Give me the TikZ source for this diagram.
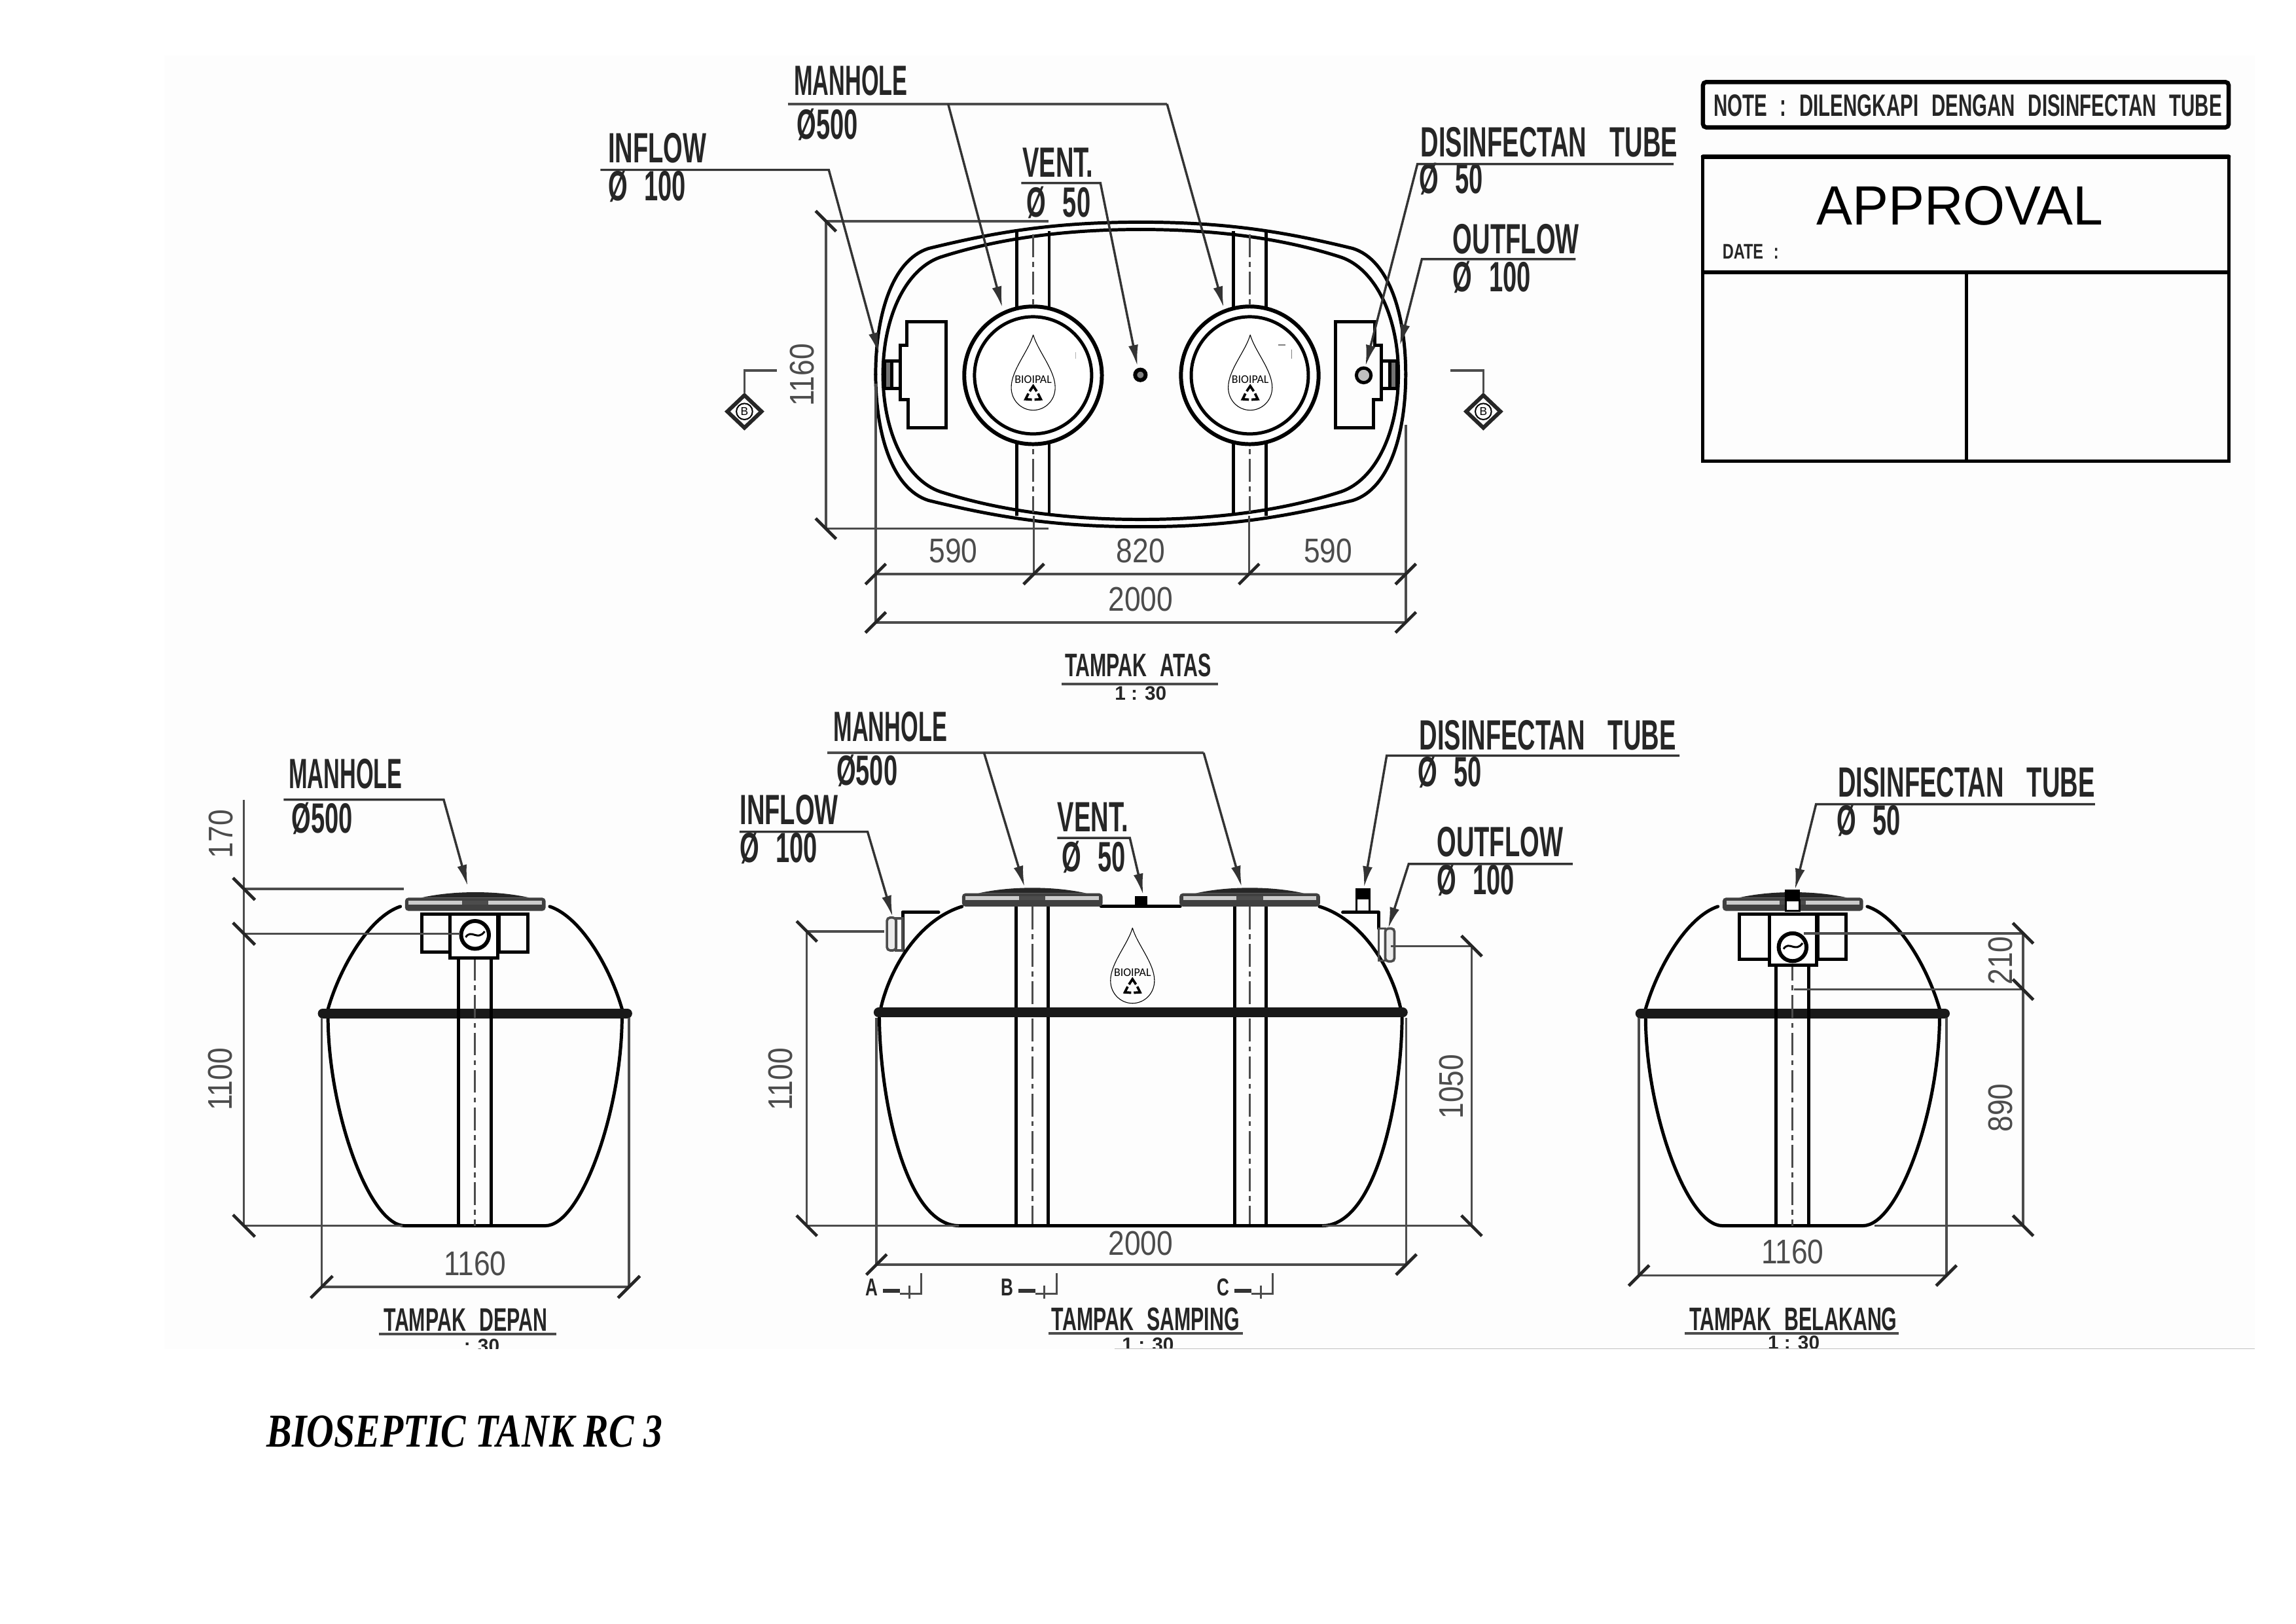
\documentclass[tikz,border=0pt]{standalone}
\usepackage{fontspec}
\setmainfont{Liberation Sans}
\newfontfamily\titlefont{Liberation Serif}
\newfontfamily\logofont{Carlito}
\newfontfamily\labelfont[WordSpace=1.6]{Liberation Sans}
\newfontfamily\widefont[WordSpace=2.4]{Liberation Sans}
\usetikzlibrary{arrows.meta,shapes.geometric}
\definecolor{ink}{gray}{.15}
\definecolor{dimcol}{gray}{.3}
\tikzset{
  tank/.style={line width=1pt, draw=black, line cap=round},
  band/.style={line width=3pt, draw=black!90, line cap=round},
  strap/.style={line width=1pt, draw=black},
  axis/.style={line width=.6pt, draw=dimcol, dash pattern=on 7pt off 1.5pt on 1.5pt off 1.5pt},
  dimln/.style={line width=.7pt, draw=dimcol},
  tickln/.style={line width=.95pt, draw=black!85},
  ldr/.style={line width=.7pt, draw=black!80, -{Latex[length=6.5pt,width=3pt]}},
  txt/.style={anchor=base west, inner sep=0pt, text=ink, font=\labelfont\fontsize{13}{13}\bfseries\selectfont, xscale=.59},
  dimnum/.style={inner sep=0pt, text=dimcol, font=\fontsize{10.5}{10.5}\selectfont, xscale=.85},
  viewtitle/.style={anchor=base west, inner sep=0pt, text=ink, font=\widefont\fontsize{10}{10}\bfseries\selectfont, xscale=.61},
  viewscale/.style={inner sep=0pt, text=ink, font=\fontsize{6}{6}\bfseries\selectfont},
  secmark/.style={diamond, draw=black!85, line width=1.2pt, inner sep=0pt, minimum width=11pt, minimum height=10.5pt, font=\fontsize{3.5}{3.5}\selectfont},
  dropmark/.pic={
    \draw[line width=.22pt] (0,0) .. controls (3,11) and (15,24) .. (15,36)
      .. controls (15,45) and (8,51.5) .. (0,51.5)
      .. controls (-8,51.5) and (-15,45) .. (-15,36)
      .. controls (-15,24) and (-3,11) .. (0,0);
    \node[inner sep=0pt, font=\logofont\fontsize{3.6}{3.6}\selectfont] (-name) at (0,30.4) {BIOIPAL};
    \foreach \a in {0,120,240}
      \draw[line width=.75pt, rotate around={\a:(0,41)}] (-2.4,38.6) -- (0,35) -- (2.4,38.6);
  },
  lid/.pic={
    \fill[black!85] (-37,-9) .. controls (-15,-14) and (15,-14) .. (37,-9) -- cycle;
    \fill[black!75, rounded corners=1pt] (-48,-9) rectangle (48,0);
    \fill[black!20] (-45.5,-7) rectangle (45.5,-4.2);
    \fill[black!70] (-9,-7) rectangle (9,-4.2);
  },
  endview/.pic={
    \draw[tank] (-51,619) .. controls (-72,626) and (-92,660) .. (-100.4,689);
    \draw[tank] (51,619) .. controls (72,626) and (92,660) .. (100.4,689);
    \draw[tank] (-100.4,695) .. controls (-100,760) and (-72,837) .. (-48,837)
      -- (48,837) .. controls (72,837) and (100,760) .. (100.4,695);
    \draw[band] (-104,692) -- (104,692);
    \draw[strap] (-11.5,654) -- (-11.5,837);
    \draw[strap] (11.2,654) -- (11.2,837);
    \draw[axis] (0,654) -- (0,837);
  }
}
\begin{document}
\begin{tikzpicture}[x=.45pt,y=-.45pt]
  \useasboundingbox (0,0) rectangle (1568,1108.6);
  \fill[black!.6] (112,38) rectangle (1540,921);

  % top view
  \begin{scope}[shift={(779,255.7)}]
    \foreach \sx/\sy in {1/1,-1/1,1/-1,-1/-1} {
      \draw[tank, xscale=\sx, yscale=\sy] (0,-104) .. controls (60,-104) and (100,-97) .. (145,-86)
        .. controls (170,-78) and (181,-40) .. (181,0);
      \draw[tank, xscale=\sx, yscale=\sy] (0,-99) .. controls (55,-99) and (100,-92) .. (137,-80)
        .. controls (160,-72) and (176,-40) .. (176,0);
    }
    \foreach \sx in {1,-1} {
      \draw[tank, xscale=\sx] (133,-36) -- (159.8,-36) -- (159.8,-20) -- (164.2,-20) -- (164.2,17)
        -- (159,17) -- (159,36.3) -- (133,36.3) -- cycle;
      \draw[tank, xscale=\sx, fill=white] (164.2,-9) rectangle (170,9.5);
      \draw[tank, xscale=\sx, fill=black!55] (170,-9) rectangle (175,9.5);
    }
  \end{scope}
  \foreach \cx in {705.5,853.5} {
    \draw[strap] (\cx-11,158) -- (\cx-11,352);
    \draw[strap] (\cx+11,158) -- (\cx+11,352);
    \draw[axis] (\cx,160) -- (\cx,350);
    \draw[tank, line width=1.2pt, fill=white] (\cx,256.3) circle (47);
    \draw[tank] (\cx,256.3) circle (40);
  }
  \draw[tank, fill=black!25] (931.3,256.3) circle (5);
  \draw[tank, line width=1.2pt, fill=black!50] (778.8,256) circle (3.6);
  \pic (dropa) at (705.6,228.6) {dropmark};
  \pic (dropb) at (853.8,228.6) {dropmark};
  \draw[line width=.3pt, draw=black!50] (873,235.5) -- (878,235.5);
  \draw[line width=.3pt, draw=black!50] (882,238.5) -- (882,245);
  \draw[line width=.3pt, draw=black!30] (734.5,240.5) -- (734.5,245);

  % section marks of top view
  \node[secmark] (secl) at (508.4,281) {B};
  \node[secmark] (secr) at (1013,281) {B};
  \coordinate (secla) at (530.6,253);
  \coordinate (secra) at (990.5,253);
  \draw[dimln] (secla) -| (secl);
  \draw[dimln] (secra) -| (secr);
  \draw[line width=.4pt] (secl) circle (5.5);
  \draw[line width=.4pt] (secr) circle (5.5);

  % top view dimensions
  \coordinate (ta) at (564,151);
  \coordinate (tb) at (564,361);
  \coordinate (tae) at (716,151);
  \coordinate (tbe) at (716,361);
  \coordinate (da) at (598,392);
  \coordinate (db) at (706,392);
  \coordinate (dc) at (853,392);
  \coordinate (dd) at (960,392);
  \coordinate (de) at (598,425);
  \coordinate (df) at (960,425);
  \draw[dimln] (ta) -- (tb);
  \draw[dimln] (ta) -- (tae);
  \draw[dimln] (tb) -- (tbe);
  \draw[dimln] (da) -- (dd);
  \draw[dimln] (de) -- (df);
  \draw[dimln] (598,262) -- (de);
  \draw[dimln] (960,290) -- (df);
  \draw[dimln] (706,352) -- (db);
  \draw[dimln] (853,352) -- (dc);
  \foreach \p in {ta,tb} \draw[tickln, shift={(\p)}] (-7,-7) -- (7,7);
  \foreach \p in {da,db,dc,dd,de,df} \draw[tickln, shift={(\p)}] (-7,7) -- (7,-7);
  \node[rotate=90, dimnum] (n1160t) at (548,256) {1160};
  \node[dimnum] (n590a) at (651,376) {590};
  \node[dimnum] (n820) at (779,376) {820};
  \node[dimnum] (n590b) at (907,376) {590};
  \node[dimnum] (n2000t) at (779,409) {2000};

  % top view labels
  \node[txt, xscale=.9] (mht) at (542,65) {MANHOLE};
  \node[txt] (mhtd) at (544,95) {Ø500};
  \node[txt] (ift) at (415,111) {INFLOW};
  \node[txt] (iftd) at (415,137) {Ø 100};
  \node[txt] (vtt) at (698,121) {VENT.};
  \node[txt] (vttd) at (701,148) {Ø 50};
  \node[txt] (dtt) at (970,107) {DISINFECTAN\hspace{.25em} TUBE};
  \node[txt] (dttd) at (969,132) {Ø 50};
  \node[txt] (oft) at (992,173) {OUTFLOW};
  \node[txt] (oftd) at (992,199) {Ø 100};
  \coordinate (la) at (538,71);
  \coordinate (lb) at (647.5,71);
  \coordinate (lc) at (797,71);
  \coordinate (ld) at (410,116);
  \coordinate (le) at (566,116);
  \coordinate (lf) at (697.5,125);
  \coordinate (lg) at (751.5,125);
  \coordinate (lh) at (1143,112);
  \coordinate (li) at (968,112);
  \coordinate (lj) at (1076,177);
  \coordinate (lk) at (971,177);
  \draw[dimln] (la) -- (lc);
  \draw[ldr] (lb) -- (684.5,210);
  \draw[ldr] (lc) -- (835.7,210);
  \draw[ldr] (ld) -- (le) -- (600.3,241.6);
  \draw[ldr] (lf) -- (lg) -- (776.8,250);
  \draw[ldr] (lh) -- (li) -- (932.5,250);
  \draw[ldr] (lj) -- (lk) -- (956,236);
  \node[viewtitle] (tva) at (727,462) {TAMPAK ATAS};
  \draw[dimln, line width=.85pt] (725,467) -- (832,467);
  \node[viewscale] (tvb) at (779,473.5) {1 : 30};

  % approval box
  \draw[tank, line width=1.3pt, rounded corners=1pt] (1163,56) rectangle (1522,87);
  \node[anchor=base west, inner sep=0pt, text=ink, font=\widefont\fontsize{9.5}{9.5}\bfseries\selectfont, xscale=.625] (note) at (1170,79.5) {NOTE : DILENGKAPI DENGAN DISINFECTAN TUBE};
  \draw[tank, line width=1pt, line cap=butt] (1163,107) rectangle (1522,315);
  \draw[tank, line width=1.3pt] (1163,107) -- (1522,107);
  \draw[tank, line width=1.1pt] (1163,186) -- (1522,186);
  \draw[tank, line width=.9pt] (1343,186) -- (1343,315);
  \node[anchor=base west, inner sep=0pt, font=\fontsize{17}{17}\selectfont, xscale=.975] (appr) at (1240,153.5) {APPROVAL};
  \node[anchor=base west, inner sep=0pt, text=ink, font=\labelfont\fontsize{6.5}{6.5}\bfseries\selectfont, xscale=.73] (date) at (1176,177) {DATE :};

  % front view
  \pic (fv) at (324.4,0) {endview};
  \pic (lidf) at (324.6,622) {lid};
  \draw[tank] (288,624) rectangle (307.5,650);
  \draw[tank] (341,624) rectangle (360.5,650);
  \draw[tank, fill=white] (307.5,624) rectangle (340,654);
  \draw[tank, line width=1.2pt] (324.4,638.4) circle (9.5);
  \draw[line width=.6pt] (318,640) .. controls (322,634) and (326,643) .. (331,636);
  \coordinate (fa) at (166.6,546);
  \coordinate (fb) at (166.6,607);
  \coordinate (fc) at (166.6,637.6);
  \coordinate (fd) at (166.6,837);
  \coordinate (fe) at (219.7,878.8);
  \coordinate (ff) at (429.5,878.8);
  \draw[dimln] (fa) -- (fd);
  \draw[dimln] (fb) -- (276,607);
  \draw[dimln] (fc) -- (314,637.6);
  \draw[dimln] (fd) -- (275,837);
  \draw[dimln] (fe) -- (ff);
  \draw[dimln] (219.7,695) -- (fe);
  \draw[dimln] (429.5,695) -- (ff);
  \foreach \p in {fb,fc,fd} \draw[tickln, shift={(\p)}] (-7.5,-7.5) -- (7.5,7.5);
  \foreach \p in {fe,ff} \draw[tickln, shift={(\p)}] (-7.5,7.5) -- (7.5,-7.5);
  \node[rotate=90, dimnum] (n170) at (151,569.5) {170};
  \node[rotate=90, dimnum] (n1100f) at (150.5,737) {1100};
  \node[dimnum] (n1160f) at (324.4,863) {1160};
  \node[txt, xscale=.9] (mhf) at (197,538.5) {MANHOLE};
  \node[txt] (mhfd) at (199,569) {Ø500};
  \coordinate (ma) at (193.7,546);
  \coordinate (mb) at (303,546);
  \draw[ldr] (ma) -- (mb) -- (319.4,605);
  \node[viewtitle] (tfa) at (262,909) {TAMPAK DEPAN};
  \draw[dimln, line width=.85pt] (259,911) -- (380,911);
  \node[viewscale] (tfb) at (329,919) {: 30};

  % side view
  \draw[strap] (694,619) -- (694,837);
  \draw[strap] (715.7,619) -- (715.7,837);
  \draw[strap] (843,619) -- (843,837);
  \draw[strap] (864.6,619) -- (864.6,837);
  \draw[axis] (705,619) -- (705,837);
  \draw[axis] (853.5,619) -- (853.5,837);
  \draw[tank] (752,619) -- (806,619);
  \draw[tank] (657,619) .. controls (628,628) and (608,660) .. (601.5,688.5);
  \draw[tank] (901,619) .. controls (930,628) and (950,660) .. (956.5,688.5);
  \draw[tank] (600.5,695) .. controls (601,750) and (618,837) .. (655,837) -- (903,837)
    .. controls (940,837) and (957,750) .. (957.5,695);
  \draw[band] (600,691.4) -- (958,691.4);
  \pic (lids) at (705,619) {lid};
  \pic (lidt) at (853.5,619) {lid};
  \pic (dropc) at (773.4,633.6) {dropmark};
  \fill[black] (775,611.7) rectangle (783.6,619);
  % side fittings
  \draw[tank] (616.5,623) -- (641,623);
  \draw[tank] (616.5,623) -- (616.5,649);
  \draw[dimln, line width=.75pt, rounded corners=1pt, fill=black!8] (605.7,626.6) rectangle (612,649);
  \draw[dimln, line width=.75pt] (612,627) rectangle (616.5,649);
  \draw[tank] (917,623) -- (941.5,623);
  \draw[tank] (941.5,623) -- (941.5,634);
  \draw[dimln, line width=.75pt] (941.5,634) rectangle (946,656);
  \draw[dimln, line width=.75pt, rounded corners=1pt, fill=black!8] (946,634) rectangle (952.3,656.5);
  \fill[black] (925.5,606.5) rectangle (935.8,613.5);
  \draw[tank, line width=.6pt] (926.2,613.5) rectangle (935.2,622.8);
  % side dimensions
  \coordinate (sa) at (551,636);
  \coordinate (sb) at (551,837);
  \coordinate (sc) at (1005,646);
  \coordinate (sd) at (1005,837);
  \coordinate (se) at (598.6,863.5);
  \coordinate (sf) at (960.4,863.5);
  \draw[dimln] (sa) -- (sb);
  \draw[dimln] (sa) -- (604,636);
  \draw[dimln] (sb) -- (655,837);
  \draw[dimln] (sc) -- (sd);
  \draw[dimln] (sc) -- (950,646);
  \draw[dimln] (sd) -- (903,837);
  \draw[dimln, line width=.9pt] (se) -- (sf);
  \draw[dimln] (598.6,695) -- (se);
  \draw[dimln] (960.4,695) -- (sf);
  \foreach \p in {sa,sb,sc,sd} \draw[tickln, shift={(\p)}] (-7,-7) -- (7,7);
  \foreach \p in {se,sf} \draw[tickln, shift={(\p)}] (-7,7) -- (7,-7);
  \node[rotate=90, dimnum] (n1100s) at (533,737) {1100};
  \node[rotate=90, dimnum] (n1050) at (991,742) {1050};
  \node[dimnum] (n2000s) at (779,849) {2000};
  % side labels
  \node[txt, xscale=.9] (mhs) at (569,506) {MANHOLE};
  \node[txt] (mhsd) at (571,536) {Ø500};
  \node[txt] (ifs) at (505,563) {INFLOW};
  \node[txt] (ifsd) at (505,589) {Ø 100};
  \node[txt] (vts) at (722,568) {VENT.};
  \node[txt] (vtsd) at (725,595) {Ø 50};
  \node[txt] (dts) at (969,512) {DISINFECTAN\hspace{.25em} TUBE};
  \node[txt] (dtsd) at (968,537) {Ø 50};
  \node[txt] (ofs) at (981,585) {OUTFLOW};
  \node[txt] (ofsd) at (981,611) {Ø 100};
  \coordinate (qa) at (565,514);
  \coordinate (qb) at (672,514);
  \coordinate (qc) at (822,514);
  \coordinate (qd) at (505,568);
  \coordinate (qe) at (592.5,568);
  \coordinate (qf) at (722,572.2);
  \coordinate (qg) at (771.6,572.2);
  \coordinate (qh) at (1147,516);
  \coordinate (qi) at (947,516);
  \coordinate (qj) at (1074,590);
  \coordinate (qk) at (962,590);
  \draw[dimln] (qa) -- (qc);
  \draw[ldr] (qb) -- (699.7,605.7);
  \draw[ldr] (qc) -- (848,605.7);
  \draw[ldr] (qd) -- (qe) -- (609.6,626);
  \draw[ldr] (qf) -- (qg) -- (780.7,611);
  \draw[ldr] (qh) -- (qi) -- (931.5,606);
  \draw[ldr] (qj) -- (qk) -- (948,634);
  % cut marks A B C
  \foreach \n/\dx in {A/0,B/92.4,C/240} {
    \begin{scope}[xshift=\dx*.45pt]
      \node[anchor=base west, inner sep=0pt, text=ink, font=\fontsize{7.5}{7.5}\bfseries\selectfont, xscale=.7] (cut\n) at (591,885) {\n};
      \draw[line width=1.1pt, draw=black!80] (603,881.4) -- (614.5,881.4);
      \draw[line width=.6pt, draw=black!70] (620.9,877.7) -- (620.9,886.6);
      \draw[line width=.6pt, draw=black!70] (614.5,883.6) -- (629.3,883.6) -- (629.3,869.5);
    \end{scope}
  }
  \node[viewtitle] (tsa) at (718,908.5) {TAMPAK SAMPING};
  \draw[dimln, line width=.9pt] (716,910.5) -- (849,910.5);
  \node[viewscale] (tsb) at (784,918) {1 : 30};

  % back view
  \pic (bv) at (1224.2,0) {endview};
  \pic (lidb) at (1224.4,622) {lid};
  \fill[black] (1219,607.5) rectangle (1229.3,614);
  \draw[tank, line width=.6pt, fill=white] (1219.7,615) rectangle (1228.8,621.8);
  \draw[tank] (1187.7,624) rectangle (1208.3,655);
  \draw[tank] (1241.3,624) rectangle (1260.7,655);
  \draw[tank, fill=white] (1208.3,624) rectangle (1240.5,659);
  \draw[tank, line width=1.2pt] (1224.2,646.8) circle (9.5);
  \draw[line width=.6pt] (1218,648) .. controls (1222,642) and (1226,651) .. (1231,644);
  \coordinate (ba) at (1381.6,637.3);
  \coordinate (bb) at (1381.6,675.7);
  \coordinate (bc) at (1381.6,837);
  \coordinate (bd) at (1119.3,871);
  \coordinate (be) at (1329.2,871);
  \draw[dimln] (ba) -- (bc);
  \draw[dimln] (ba) -- (1232,637.3);
  \draw[dimln] (bb) -- (1225,675.7);
  \draw[dimln] (bc) -- (1280,837);
  \draw[dimln] (bd) -- (be);
  \draw[dimln] (1119.3,695) -- (bd);
  \draw[dimln] (1329.2,695) -- (be);
  \foreach \p in {ba,bb,bc} \draw[tickln, shift={(\p)}] (-7,-7) -- (7,7);
  \foreach \p in {bd,be} \draw[tickln, shift={(\p)}] (-7,7) -- (7,-7);
  \node[rotate=90, dimnum] (n210) at (1366,656) {210};
  \node[rotate=90, dimnum] (n890) at (1366,756.5) {890};
  \node[dimnum] (n1160b) at (1224.2,855) {1160};
  \node[txt] (dtb) at (1255,544) {DISINFECTAN\hspace{.25em} TUBE};
  \node[txt] (dtbd) at (1254,570) {Ø 50};
  \coordinate (bl) at (1430.7,549.2);
  \coordinate (bm) at (1240.2,549.2);
  \draw[ldr] (bl) -- (bm) -- (1225.8,607.5);
  \node[viewtitle] (tba) at (1153.5,908.5) {TAMPAK BELAKANG};
  \draw[dimln, line width=.85pt] (1150.6,910.5) -- (1296.8,910.5);
  \node[viewscale] (tbb) at (1225,917) {1 : 30};

  % bottom edge and title
  \fill[white] (0,921) rectangle (1568,1108.6);
  \draw[line width=.2pt, draw=black!25] (761,921) -- (1540,921);
  \node[anchor=base west, inner sep=0pt, font=\titlefont\bfseries\itshape\fontsize{14.5}{14.5}\selectfont, xscale=.8] (tname) at (182,988) {BIOSEPTIC TANK RC 3};
\end{tikzpicture}
\end{document}
